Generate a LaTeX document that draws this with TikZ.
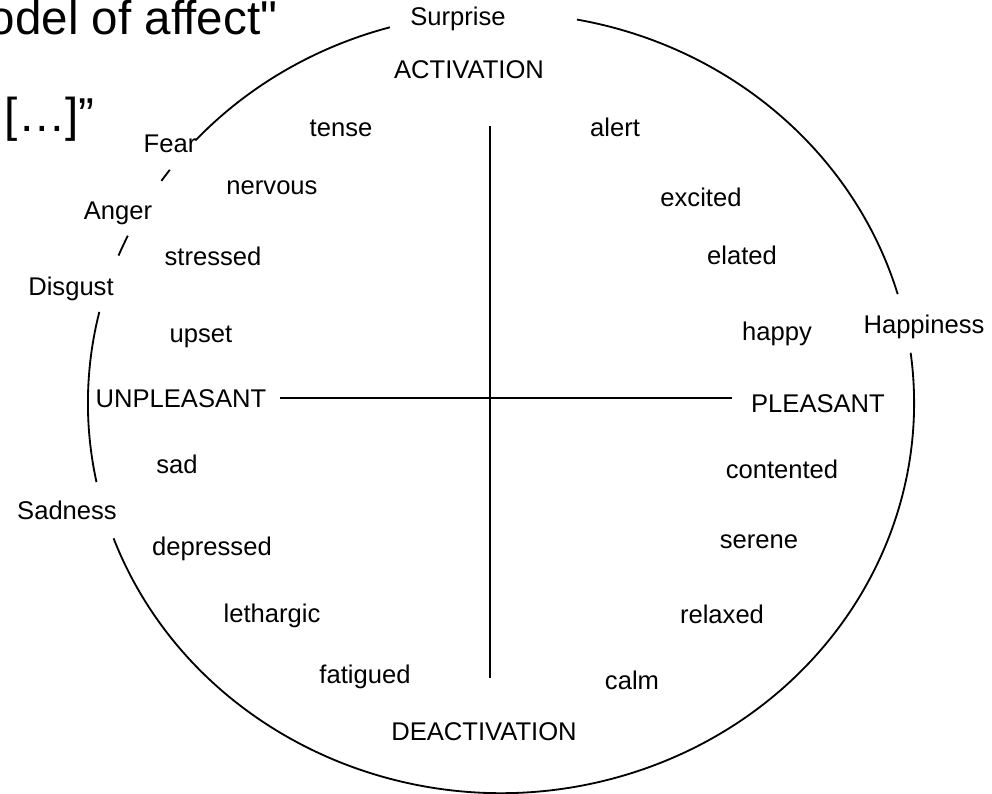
\documentclass[tikz,border=0pt]{standalone}
\usepackage{fontspec}
\setmainfont{Liberation Sans}
\newfontfamily\slidefont{Liberation Sans}[Ligatures=NoCommon]
\begin{document}
\begin{tikzpicture}[x=0.025cm, y=-0.025cm, line width=1.3pt,
  every node/.style = {anchor=base, inner sep=0pt,
    font=\fontsize{18.2}{22}\selectfont},
  title/.style = {anchor=base west, font=\slidefont\fontsize{33.8}{40}\selectfont},
  rim/.style = {x radius=10.325cm, y radius=9.75cm}]
  \useasboundingbox (0,0) rectangle (992,794);
  % slide text, cut off at the edge
  \node[title] (heading) at (-12,35) {odel of affect"};
  \node[title] (quote) at (4,132) {[…]”};
  % centre of the ring and the two axes
  \coordinate (c) at (501,403);
  \coordinate (xl) at (280,398);
  \coordinate (xr) at (732,398);
  \coordinate (yt) at (490,126);
  \coordinate (yb) at (490,678);
  \draw (xl) -- (xr);
  \draw (yt) -- (yb);
  % axis labels
  \node (activation) at (469,79) {ACTIVATION};
  \node (deactivation) at (484,740) {DEACTIVATION};
  \node (unpleasant) at (181,407) {UNPLEASANT};
  \node (pleasant) at (818,412) {PLEASANT};
  % basic emotions on the ring
  \node (surprise) at (458,26) {Surprise};
  \node (fear) at (170,153) {Fear};
  \node (anger) at (118,220) {Anger};
  \node (disgust) at (71,295) {Disgust};
  \node (sadness) at (67,519) {Sadness};
  \node (happiness) at (924,333) {Happiness};
  % words inside
  \node (tense) at (341,137) {tense};
  \node (nervous) at (272,195) {nervous};
  \node (stressed) at (213,265) {stressed};
  \node (upset) at (201,342) {upset};
  \node (sad) at (177,473) {sad};
  \node (depressed) at (212,555) {depressed};
  \node (lethargic) at (272,622) {lethargic};
  \node (fatigued) at (365,683) {fatigued};
  \node (alert) at (615,137) {alert};
  \node (excited) at (701,206) {excited};
  \node (elated) at (742,264) {elated};
  \node (happy) at (777,340) {happy};
  \node (contented) at (782,478) {contented};
  \node (serene) at (759,548) {serene};
  \node (relaxed) at (722,623) {relaxed};
  \node (calm) at (632,689) {calm};
  % the ring, broken at the basic emotions
  \draw ([shift={(105.6:10.325cm and 9.75cm)}]c) arc[rim, start angle=105.6, end angle=137.7];
  \draw ([shift={(143.3:10.325cm and 9.75cm)}]c) arc[rim, start angle=143.3, end angle=145.3];
  \draw ([shift={(154.6:10.325cm and 9.75cm)}]c) arc[rim, start angle=154.6, end angle=157.8];
  \draw ([shift={(166.5:10.325cm and 9.75cm)}]c) arc[rim, start angle=166.5, end angle=191.7];
  \draw ([shift={(200.3:10.325cm and 9.75cm)}]c) arc[rim, start angle=200.3, end angle=367.4];
  \draw ([shift={(16.2:10.325cm and 9.75cm)}]c) arc[rim, start angle=16.2, end angle=79.4];
\end{tikzpicture}
\end{document}
